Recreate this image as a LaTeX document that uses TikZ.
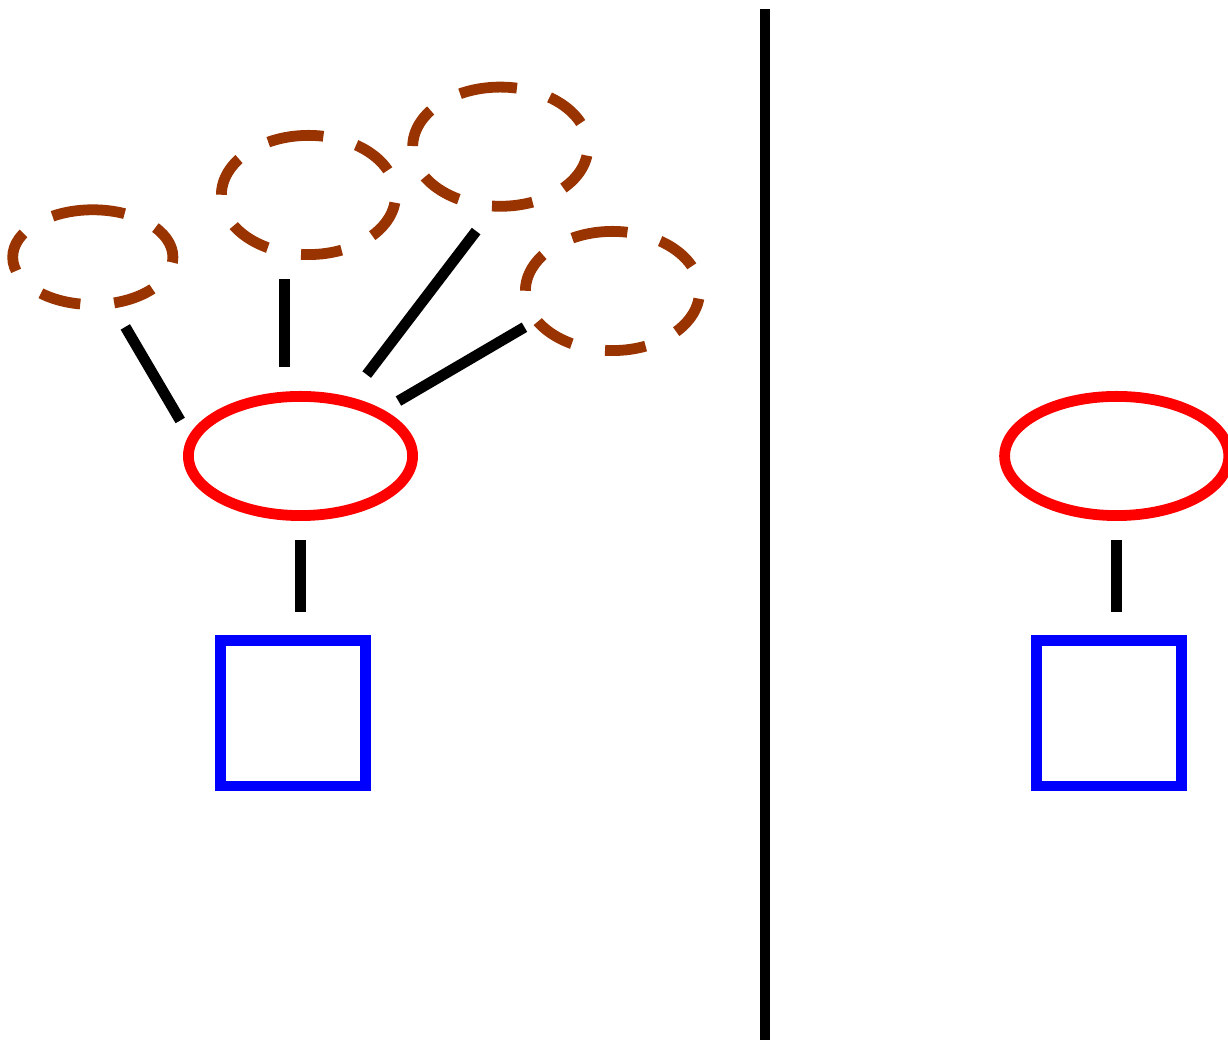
\documentclass[tikz,border=0pt]{standalone}
\usepackage{tikz}
\usetikzlibrary{shapes.geometric}
\definecolor{GhostBrown}{HTML}{993300}
\begin{document}
\begin{tikzpicture}[x=1pt, y=1pt, line width=10.8pt,
  ghostnode/.style={ellipse, inner sep=0pt, outer sep=0pt},
  ghost/.style={draw=GhostBrown, dash pattern=on 41pt off 34pt},
  mainring/.style={ellipse, draw=red, inner sep=0pt, outer sep=0pt,
    minimum width=224.2pt, minimum height=119.2pt},
  leaf/.style={rectangle, draw=blue, inner sep=0pt, outer sep=0pt, minimum size=145.2pt},
  tie/.style={draw=black}]
  \clip (0,0) rectangle (1228,1040);
  % left side
  \node[mainring] (r1) at (300.5,584) {};
  \node[leaf] (b1) at (293,326.5) {};
  \draw[tie, shorten <=24.4pt, shorten >=29pt] (r1.south) -- (r1.south |- b1.north);
  % dashed candidates
  \node[ghostnode, minimum width=160.2pt, minimum height=94.8pt] (e1) at (92.8,782.8) {};
  \node[ghostnode, minimum width=174.2pt, minimum height=119.2pt] (e2) at (308.5,845) {};
  \node[ghostnode, minimum width=175.2pt, minimum height=119.2pt] (e3) at (500.3,893.3) {};
  \node[ghostnode, minimum width=174.2pt, minimum height=119.2pt] (e4) at (612.5,749) {};
  \foreach \n/\rx/\ry in {e1/80.1/47.4, e2/87.1/59.6, e3/87.6/59.6, e4/87.1/59.6}
    \draw[ghost] (\n.north) arc[start angle=90, delta angle=360, x radius=\rx pt, y radius=\ry pt];
  \draw[tie, shorten <=27.4pt, shorten >=23.5pt] (e1.292.1) -- (r1.172.3);
  \draw[tie, shorten <=26.7pt, shorten >=29.7pt] (e2.247.6) -- (e2.247.6 |- r1.north);
  \draw[tie, shorten <=31.3pt, shorten >=33.9pt] (e3.265.7) -- (r1.50.8);
  \draw[tie, shorten <=14pt, shorten >=23.6pt] (e4.201.1) -- (r1.29.8);
  % divider
  \draw (765,1030.7) -- (765,-10);
  % right side
  \node[mainring] (r2) at (1116.7,584) {};
  \node[leaf] (b2) at (1109,326.5) {};
  \draw[tie, shorten <=24.4pt, shorten >=29pt] (r2.south) -- (r2.south |- b2.north);
\end{tikzpicture}
\end{document}
